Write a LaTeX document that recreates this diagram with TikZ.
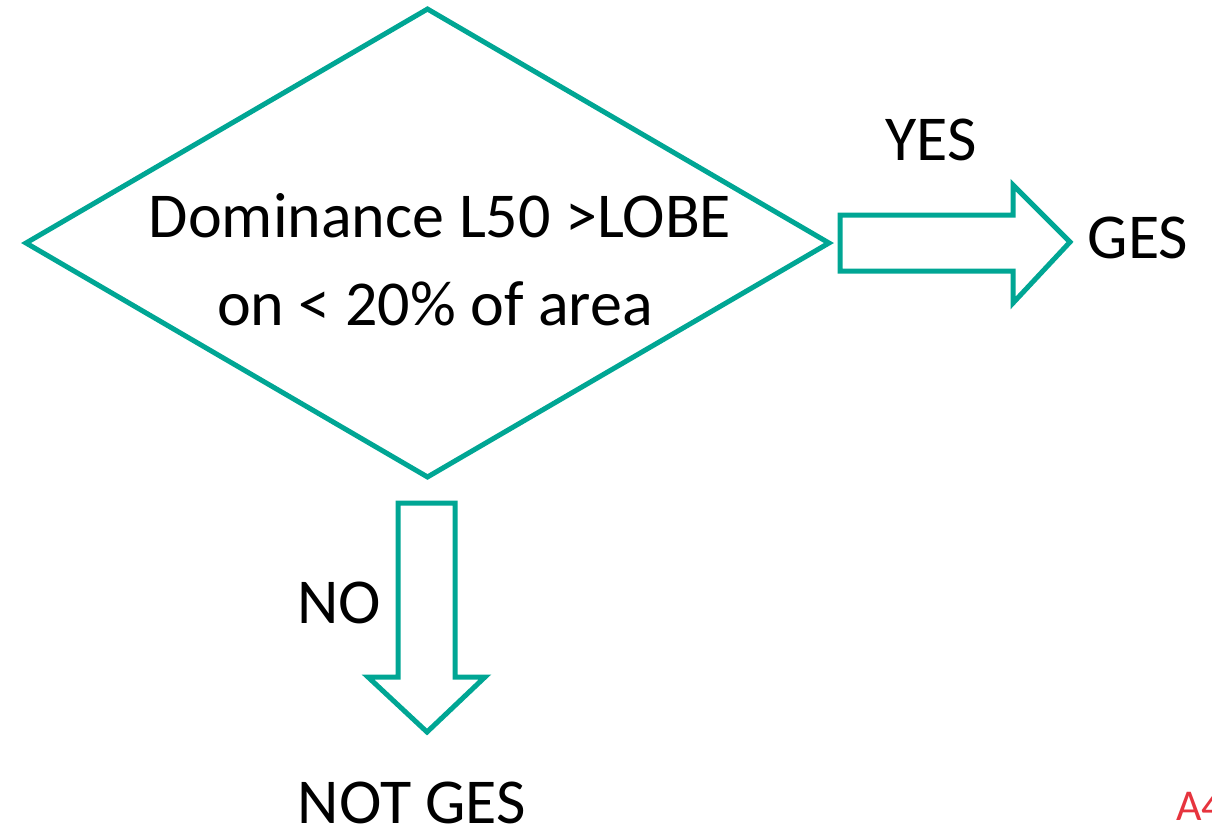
\documentclass[tikz,border=0pt]{standalone}
\usepackage{fontspec}
\setmainfont{Carlito}
\usetikzlibrary{shapes.geometric}
\definecolor{teal1}{RGB}{0,166,148}
\definecolor{red1}{RGB}{230,52,62}
\begin{document}
\begin{tikzpicture}[x=1pt,y=-1pt,
  outl/.style={draw=teal1,line width=5pt,line join=miter},
  lbl/.style={font=\fontsize{64}{87}\selectfont,inner sep=0pt,anchor=base}]
\useasboundingbox (0,0) rectangle (1212,831);
\node[diamond,outl,minimum width=805pt,minimum height=470pt,inner sep=0pt,aspect=1.71] (q) at (427.5,243) {};
\node[lbl] (t1) at (440,237) {Dominance L50 >LOBE};
\node[lbl] (t2) at (435,325) {on < 20\% of area};
% right block arrow
\draw[outl] (840,215) coordinate (ra) -- (1013,215) -- (1013,185) -- (1070,242) coordinate (rtip) -- (1013,303) -- (1013,271) -- (840,271) -- cycle;
% down block arrow
\draw[outl] (398,503) coordinate (da) -- (455,503) -- (455,677) -- (485,677) -- (427,732) coordinate (dtip) -- (368,677) -- (398,677) -- cycle;
\node[lbl] (yes) at (931,160) {YES};
\node[lbl] (ges) at (1138,258) {GES};
\node[lbl] (no) at (339,623) {NO};
\node[lbl] (notges) at (412,823) {NOT GES};
\node[lbl,font=\fontsize{44}{50}\selectfont,anchor=base west,text=red1] (a4) at (1176,820) {A4};
\end{tikzpicture}
\end{document}
